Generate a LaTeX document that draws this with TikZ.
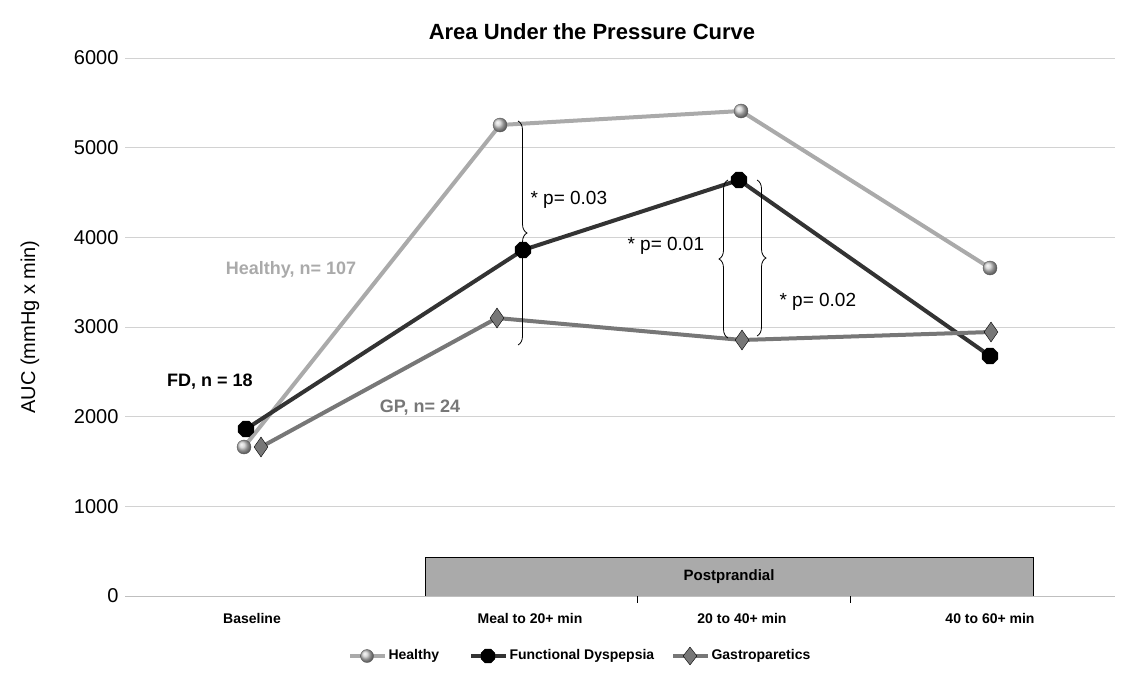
\documentclass[tikz,border=0pt]{standalone}
\usepackage{fontspec}
\setmainfont{Liberation Sans}
\usetikzlibrary{shapes.geometric,decorations.pathreplacing}
\definecolor{hcol}{HTML}{AAAAAA}
\definecolor{fcol}{HTML}{333333}
\definecolor{gcol}{HTML}{777777}
\tikzset{
  hmark/.style={circle,draw=gray!70!black,ball color=gray!40,inner sep=0pt,minimum size=14pt},
  fmark/.style={regular polygon,regular polygon sides=8,draw=black,fill=black,inner sep=0pt,minimum size=17pt},
  gmark/.style={diamond,draw=black,fill=gcol,inner sep=0pt,minimum width=14pt,minimum height=20pt},
  cat/.style={font=\fontsize{14}{16}\selectfont\bfseries},
  brc/.style={decorate,decoration={brace,amplitude=9pt},thick},
  pval/.style={font=\fontsize{19}{22}\selectfont,anchor=west}
}
\begin{document}
\begin{tikzpicture}[x=1pt,y=-1pt]
    \useasboundingbox (0,0) rectangle (1129,680);
    % Define scale: y pixel of value v
    \def\yz{596}
    \def\ys{0.08967}

    % Grid and tick labels
    \foreach \v in {1000,2000,...,6000}
      \draw[gray!35] (125,\yz-\v*\ys) -- (1115,\yz-\v*\ys);
    \foreach \v in {0,1000,...,6000}
      \node[anchor=east,font=\fontsize{20}{22}\selectfont] at (122,\yz-\v*\ys) {\v};
    \node[rotate=90,font=\fontsize{20}{22}\selectfont] (ylab) at (30,327) {AUC (mmHg x min)};
    \node[font=\fontsize{22}{26}\selectfont\bfseries] (title) at (592,32) {Area Under the Pressure Curve};

    % Postprandial box
    \node[draw=black,thick,fill=hcol,minimum width=608pt,minimum height=39pt,inner sep=0pt,
          font=\fontsize{15}{18}\selectfont\bfseries] (post) at (729,576.5) {Postprandial};
    \draw[gray!50] (125,\yz) -- (1115,\yz);
    \draw (637,\yz) -- (637,\yz+7);
    \draw (850,\yz) -- (850,\yz+7);

    % Categories
    \node[cat] (c1) at (252,618) {Baseline};
    \node[cat] (c2) at (530,618) {Meal to 20+ min};
    \node[cat] (c3) at (742,618) {20 to 40+ min};
    \node[cat] (c4) at (990,618) {40 to 60+ min};

    % Series
    \draw[hcol,line width=4pt] (244,447) -- (500,125) -- (741,111) -- (990,268);
    \draw[fcol,line width=4pt] (246,429) -- (523,250) -- (739,180) -- (990,356);
    \draw[gcol,line width=4pt] (261,447) -- (497,318) -- (742,340) -- (991,332);
    \foreach \p [count=\i] in {(244,447),(500,125),(741,111),(990,268)}
      \node[hmark] (h\i) at \p {};
    \foreach \p [count=\i] in {(246,429),(523,250),(739,180),(990,356)}
      \node[fmark] (f\i) at \p {};
    \foreach \p [count=\i] in {(261,447),(497,318),(742,340),(991,332)}
      \node[gmark] (g\i) at \p {};

    % Group labels
    \node[hcol,font=\fontsize{18}{20}\selectfont\bfseries] (hl) at (291,270) {Healthy, n= 107};
    \node[font=\fontsize{18}{20}\selectfont\bfseries] (fl) at (210,382) {FD, n = 18};
    \node[gcol,font=\fontsize{18}{20}\selectfont\bfseries] (gl) at (420,408) {GP, n= 24};

    % Significance braces
    \draw[brc] (518,121) -- (518,345);
    \node[pval] (p1) at (527,200) {* p= 0.03};
    \draw[brc] (728,338) -- (728,180);
    \node[pval] (p2) at (624,246) {* p= 0.01};
    \draw[brc] (757,180) -- (757,336);
    \node[pval] (p3) at (776,302) {* p= 0.02};

    % Legend
    \draw[hcol,line width=4pt] (350,656) -- (385,656);
    \node[hmark,minimum size=13pt] (lh) at (367,656) {};
    \node[anchor=west,cat] (lht) at (385,656) {Healthy};
    \draw[fcol,line width=4pt] (471,656) -- (506,656);
    \node[fmark,minimum size=15pt] (lf) at (488,656) {};
    \node[anchor=west,cat] (lft) at (506,656) {Functional Dyspepsia};
    \draw[gcol,line width=4pt] (673,656) -- (708,656);
    \node[gmark,minimum height=18pt] (lg) at (690,656) {};
    \node[anchor=west,cat] (lgt) at (708,656) {Gastroparetics};
\end{tikzpicture}
\end{document}
